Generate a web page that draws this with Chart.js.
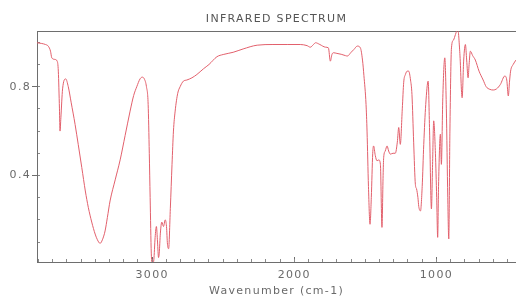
<!DOCTYPE html>
<html>
<head>
<meta charset="utf-8">
<script src="https://cdn.jsdelivr.net/npm/chart.js"></script>
<style>
  body { margin: 0; background: #fff; overflow: hidden; }
</style>
</head>
<body>
<canvas id="chart" width="516" height="298"></canvas>
<script>
// IR spectrum, wavenumber (cm-1) -> transmittance
const wavenumbers = [
  3810, 3780, 3750, 3730, 3715, 3706, 3685, 3668, 3660, 3652, 3648, 3642, 3630, 3608,
  3590, 3570, 3542, 3520, 3495, 3470, 3449, 3425, 3401, 3385, 3366, 3350, 3331, 3315,
  3296, 3260, 3225, 3190, 3155, 3130, 3108, 3085, 3070, 3055, 3040, 3028, 3020, 3014,
  3006, 2998, 2988, 2979, 2970, 2962, 2955, 2950, 2942, 2932, 2920, 2908, 2899, 2892,
  2884, 2872, 2860, 2850, 2838, 2820, 2803, 2780, 2756, 2720, 2685, 2640, 2600, 2544,
  2500, 2430, 2360, 2261, 2150, 2050, 1958, 1910, 1887, 1865, 1850, 1820, 1780, 1760,
  1746, 1735, 1725, 1700, 1670, 1640, 1627, 1600, 1580, 1556, 1535, 1520, 1510, 1495,
  1488, 1478, 1467, 1458, 1448, 1442, 1430, 1418, 1405, 1394, 1383, 1375, 1371, 1360,
  1347, 1336, 1324, 1305, 1289, 1275, 1265, 1254, 1240, 1230, 1218, 1205, 1195, 1182,
  1172, 1160, 1148, 1140, 1130, 1124, 1112, 1100, 1089, 1075, 1058, 1048, 1035, 1027,
  1019, 1007, 998, 991, 985, 972, 965, 955, 941, 930, 920, 913, 905, 894,
  880, 866, 850, 835, 819, 808, 796, 787, 777, 770, 761, 745, 726, 700,
  671, 650, 624, 600, 577, 550, 519, 505, 494, 486, 478, 460, 440
]
const transmittance = [
  0.998, 0.995, 0.99, 0.982, 0.96, 0.93, 0.923, 0.915, 0.87, 0.70, 0.60, 0.66, 0.79, 0.835,
  0.80, 0.73, 0.63, 0.54, 0.436, 0.33, 0.256, 0.19, 0.136, 0.11, 0.094, 0.11, 0.15, 0.21,
  0.285, 0.38, 0.47, 0.58, 0.69, 0.76, 0.80, 0.835, 0.843, 0.835, 0.80, 0.72, 0.50, 0.30,
  0.05, 0.0, 0.02, 0.12, 0.17, 0.10, 0.03, 0.05, 0.14, 0.19, 0.17, 0.20, 0.17, 0.09,
  0.07, 0.25, 0.45, 0.60, 0.69, 0.77, 0.80, 0.825, 0.83, 0.84, 0.855, 0.88, 0.90, 0.935,
  0.945, 0.955, 0.97, 0.987, 0.99, 0.99, 0.99, 0.985, 0.978, 0.99, 0.998, 0.99, 0.978, 0.975,
  0.915, 0.945, 0.953, 0.95, 0.946, 0.94, 0.938, 0.955, 0.968, 0.983, 0.975, 0.92, 0.85, 0.72,
  0.60, 0.35, 0.18, 0.30, 0.50, 0.533, 0.49, 0.466, 0.47, 0.45, 0.166, 0.40, 0.48, 0.51,
  0.533, 0.51, 0.496, 0.50, 0.50, 0.55, 0.616, 0.54, 0.70, 0.82, 0.855, 0.87, 0.87, 0.83,
  0.765, 0.55, 0.36, 0.34, 0.30, 0.26, 0.24, 0.35, 0.54, 0.72, 0.825, 0.60, 0.249, 0.45,
  0.646, 0.50, 0.30, 0.121, 0.35, 0.586, 0.45, 0.75, 0.93, 0.70, 0.30, 0.114, 0.60, 0.975,
  1.01, 1.035, 1.06, 0.95, 0.75, 0.92, 0.99, 0.92, 0.84, 0.90, 0.96, 0.94, 0.92, 0.87,
  0.83, 0.80, 0.788, 0.785, 0.79, 0.81, 0.848, 0.83, 0.758, 0.82, 0.87, 0.90, 0.92
]
const xTicks = [3000, 2000, 1000]
const yTicks = [0.4, 0.8]
const xRange = [440, 3810]
const yRange = [0.01, 1.05]

const axisColor = "#6e6e6e"
const tickColor = "#8a8a8a"
const textColor = "#6a6a6a"
const font = { family: "DejaVu Sans", size: 11 }

// the plot fonts are wide, add a bit of letter spacing
const spacing = {
  id: "spacing",
  beforeDraw(chart) { chart.ctx.letterSpacing = "1.3px" }
}

const ctx = document.getElementById("chart")
new Chart(ctx, {
  type: "line",
  data: {
    datasets: [{
      data: wavenumbers.map((w, i) => ({ x: w, y: transmittance[i] })),
      borderColor: "#e2606c",
      borderWidth: 1,
      pointRadius: 0,
      cubicInterpolationMode: "monotone"
    }]
  },
  options: {
    responsive: false,
    animation: false,
    devicePixelRatio: 1,
    layout: { padding: 0 },
    plugins: {
      legend: { display: false },
      tooltip: { enabled: false },
      title: {
        display: true,
        text: "INFRARED SPECTRUM",
        fullSize: false,
        color: "#555",
        font: { family: "DejaVu Sans", size: 11, weight: "normal" },
        padding: { top: 13, bottom: 5 }
      }
    },
    scales: {
      x: {
        type: "linear",
        position: "bottom",
        reverse: true,
        min: xRange[0],
        max: xRange[1],
        weight: 1,
        afterFit: s => { s.height = 36 },
        afterBuildTicks: s => { s.ticks = xTicks.map(v => ({ value: v })) },
        ticks: { color: textColor, font: font, padding: 12, maxRotation: 0, callback: v => String(v) },
        grid: { drawOnChartArea: false, tickLength: -5, color: axisColor },
        border: { color: axisColor, width: 1 },
        title: { display: true, text: "Wavenumber (cm-1)", color: textColor, font: font, padding: { top: 0, bottom: 0 } }
      },
      xMinor: {
        type: "linear",
        position: "bottom",
        reverse: true,
        min: xRange[0],
        max: xRange[1],
        weight: 0,
        afterFit: s => { s.height = 0 },
        ticks: { stepSize: 100, includeBounds: false, display: false, maxTicksLimit: 100 },
        grid: { drawOnChartArea: false, tickLength: -3, color: tickColor },
        border: { display: false }
      },
      xTop: {
        type: "linear",
        position: "top",
        min: xRange[0],
        max: xRange[1],
        afterFit: s => { s.height = 0 },
        ticks: { display: false },
        grid: { display: false },
        border: { color: axisColor, width: 1 }
      },
      y: {
        type: "linear",
        position: "left",
        min: yRange[0],
        max: yRange[1],
        weight: 1,
        afterFit: s => { s.width = 37 },
        afterBuildTicks: s => { s.ticks = yTicks.map(v => ({ value: v })) },
        ticks: { color: textColor, font: font, padding: 1, callback: v => v.toFixed(1) },
        grid: { drawOnChartArea: false, tickLength: 5, color: axisColor },
        border: { color: axisColor, width: 1 }
      },
      yMinor: {
        type: "linear",
        position: "left",
        min: yRange[0],
        max: yRange[1],
        weight: 0,
        afterFit: s => { s.width = 0 },
        ticks: { stepSize: 0.1, includeBounds: false, display: false, maxTicksLimit: 100 },
        grid: { drawOnChartArea: false, tickLength: -3, color: tickColor },
        border: { display: false }
      }
    }
  },
  plugins: [spacing]
})
</script>
</body>
</html>
